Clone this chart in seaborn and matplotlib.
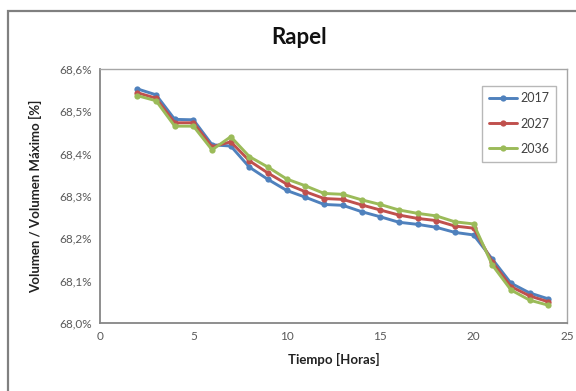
import numpy as np
import pandas as pd
import matplotlib
matplotlib.use("Agg")
import matplotlib.pyplot as plt
import matplotlib.patches as mpatches
import seaborn as sns

hours = list(range(2, 25))
v2017 = [68.553, 68.539, 68.481, 68.480, 68.421, 68.418, 68.368, 68.339, 68.313, 68.297,
         68.280, 68.278, 68.263, 68.251, 68.238, 68.233, 68.226, 68.214, 68.208,
         68.151, 68.094, 68.071, 68.057]
v2027 = [68.544, 68.531, 68.473, 68.473, 68.416, 68.428, 68.383, 68.354, 68.328, 68.310,
         68.294, 68.292, 68.279, 68.267, 68.255, 68.247, 68.242, 68.229, 68.224,
         68.144, 68.086, 68.064, 68.050]
v2036 = [68.537, 68.525, 68.465, 68.465, 68.409, 68.440, 68.393, 68.368, 68.340, 68.324,
         68.306, 68.304, 68.291, 68.280, 68.267, 68.259, 68.253, 68.239, 68.234,
         68.137, 68.078, 68.054, 68.042]
series_names = ["2017", "2027", "2036"]
colors = ["#4F81BD", "#C0504D", "#9BBB59"]
y_ticks = [68.0, 68.1, 68.2, 68.3, 68.4, 68.5, 68.6]
y_tick_labels = ["68,0%", "68,1%", "68,2%", "68,3%", "68,4%", "68,5%", "68,6%"]
x_ticks = [0, 5, 10, 15, 20, 25]

df = pd.DataFrame({
    "Hora": hours * 3,
    "Valor": v2017 + v2027 + v2036,
    "Serie": sum([[n] * len(hours) for n in series_names], []),
})

sns.set_theme(style="white")
plt.rcParams["font.family"] = ["Lato", "DejaVu Sans"]

fig = plt.figure(figsize=(5.76, 3.91), dpi=100)
ax = fig.add_axes([100/576, 1-323/391, (567-100)/576, (323-69)/391])

sns.lineplot(data=df, x="Hora", y="Valor", hue="Serie", palette=colors,
             marker="o", markersize=4.5, markeredgewidth=0, linewidth=2.1,
             ax=ax, legend=True)

ax.set_xlim(0, 25)
ax.set_ylim(68.0, 68.6)
ax.set_xticks(x_ticks)
ax.set_xticklabels([str(t) for t in x_ticks])
ax.set_yticks(y_ticks)
ax.set_yticklabels(y_tick_labels)
ax.tick_params(direction="in", length=4, width=1, color="#868686",
               labelsize=8.5, labelcolor="#595959", pad=6)
for s in ["left", "bottom"]:
    ax.spines[s].set_color("#868686")
    ax.spines[s].set_linewidth(1.3)
for s in ["top", "right"]:
    ax.spines[s].set_color("#A6A6A6")
    ax.spines[s].set_linewidth(1.0)
ax.grid(False)

ax.set_xlabel("Tiempo [Horas]", fontsize=9.5, fontweight="bold", color="#222222", labelpad=8)
ax.set_ylabel("Volumen / Volumen Máximo [%]", fontsize=9.5, fontweight="bold", color="#222222", labelpad=12)

leg = ax.legend(loc="upper right", bbox_to_anchor=(0.976, 0.935), frameon=True, fancybox=False,
                fontsize=9, labelspacing=1.05, handlelength=2.2, handletextpad=0.25,
                borderpad=0.55, borderaxespad=0, title=None)
leg.get_frame().set_edgecolor("#A6A6A6")
leg.get_frame().set_linewidth(1.0)
for t in leg.get_texts():
    t.set_color("#404040")

fig.text(0.52, 1-38/391, "Rapel", ha="center", va="center", fontsize=16, fontweight="bold", color="#111111")

border = mpatches.Rectangle((8/576, -0.05), 1.0, 1-11/391+0.05, transform=fig.transFigure,
                            fill=False, edgecolor="#808080", linewidth=1.6)
fig.patches.append(border)

fig.savefig("out.png", dpi=100)
